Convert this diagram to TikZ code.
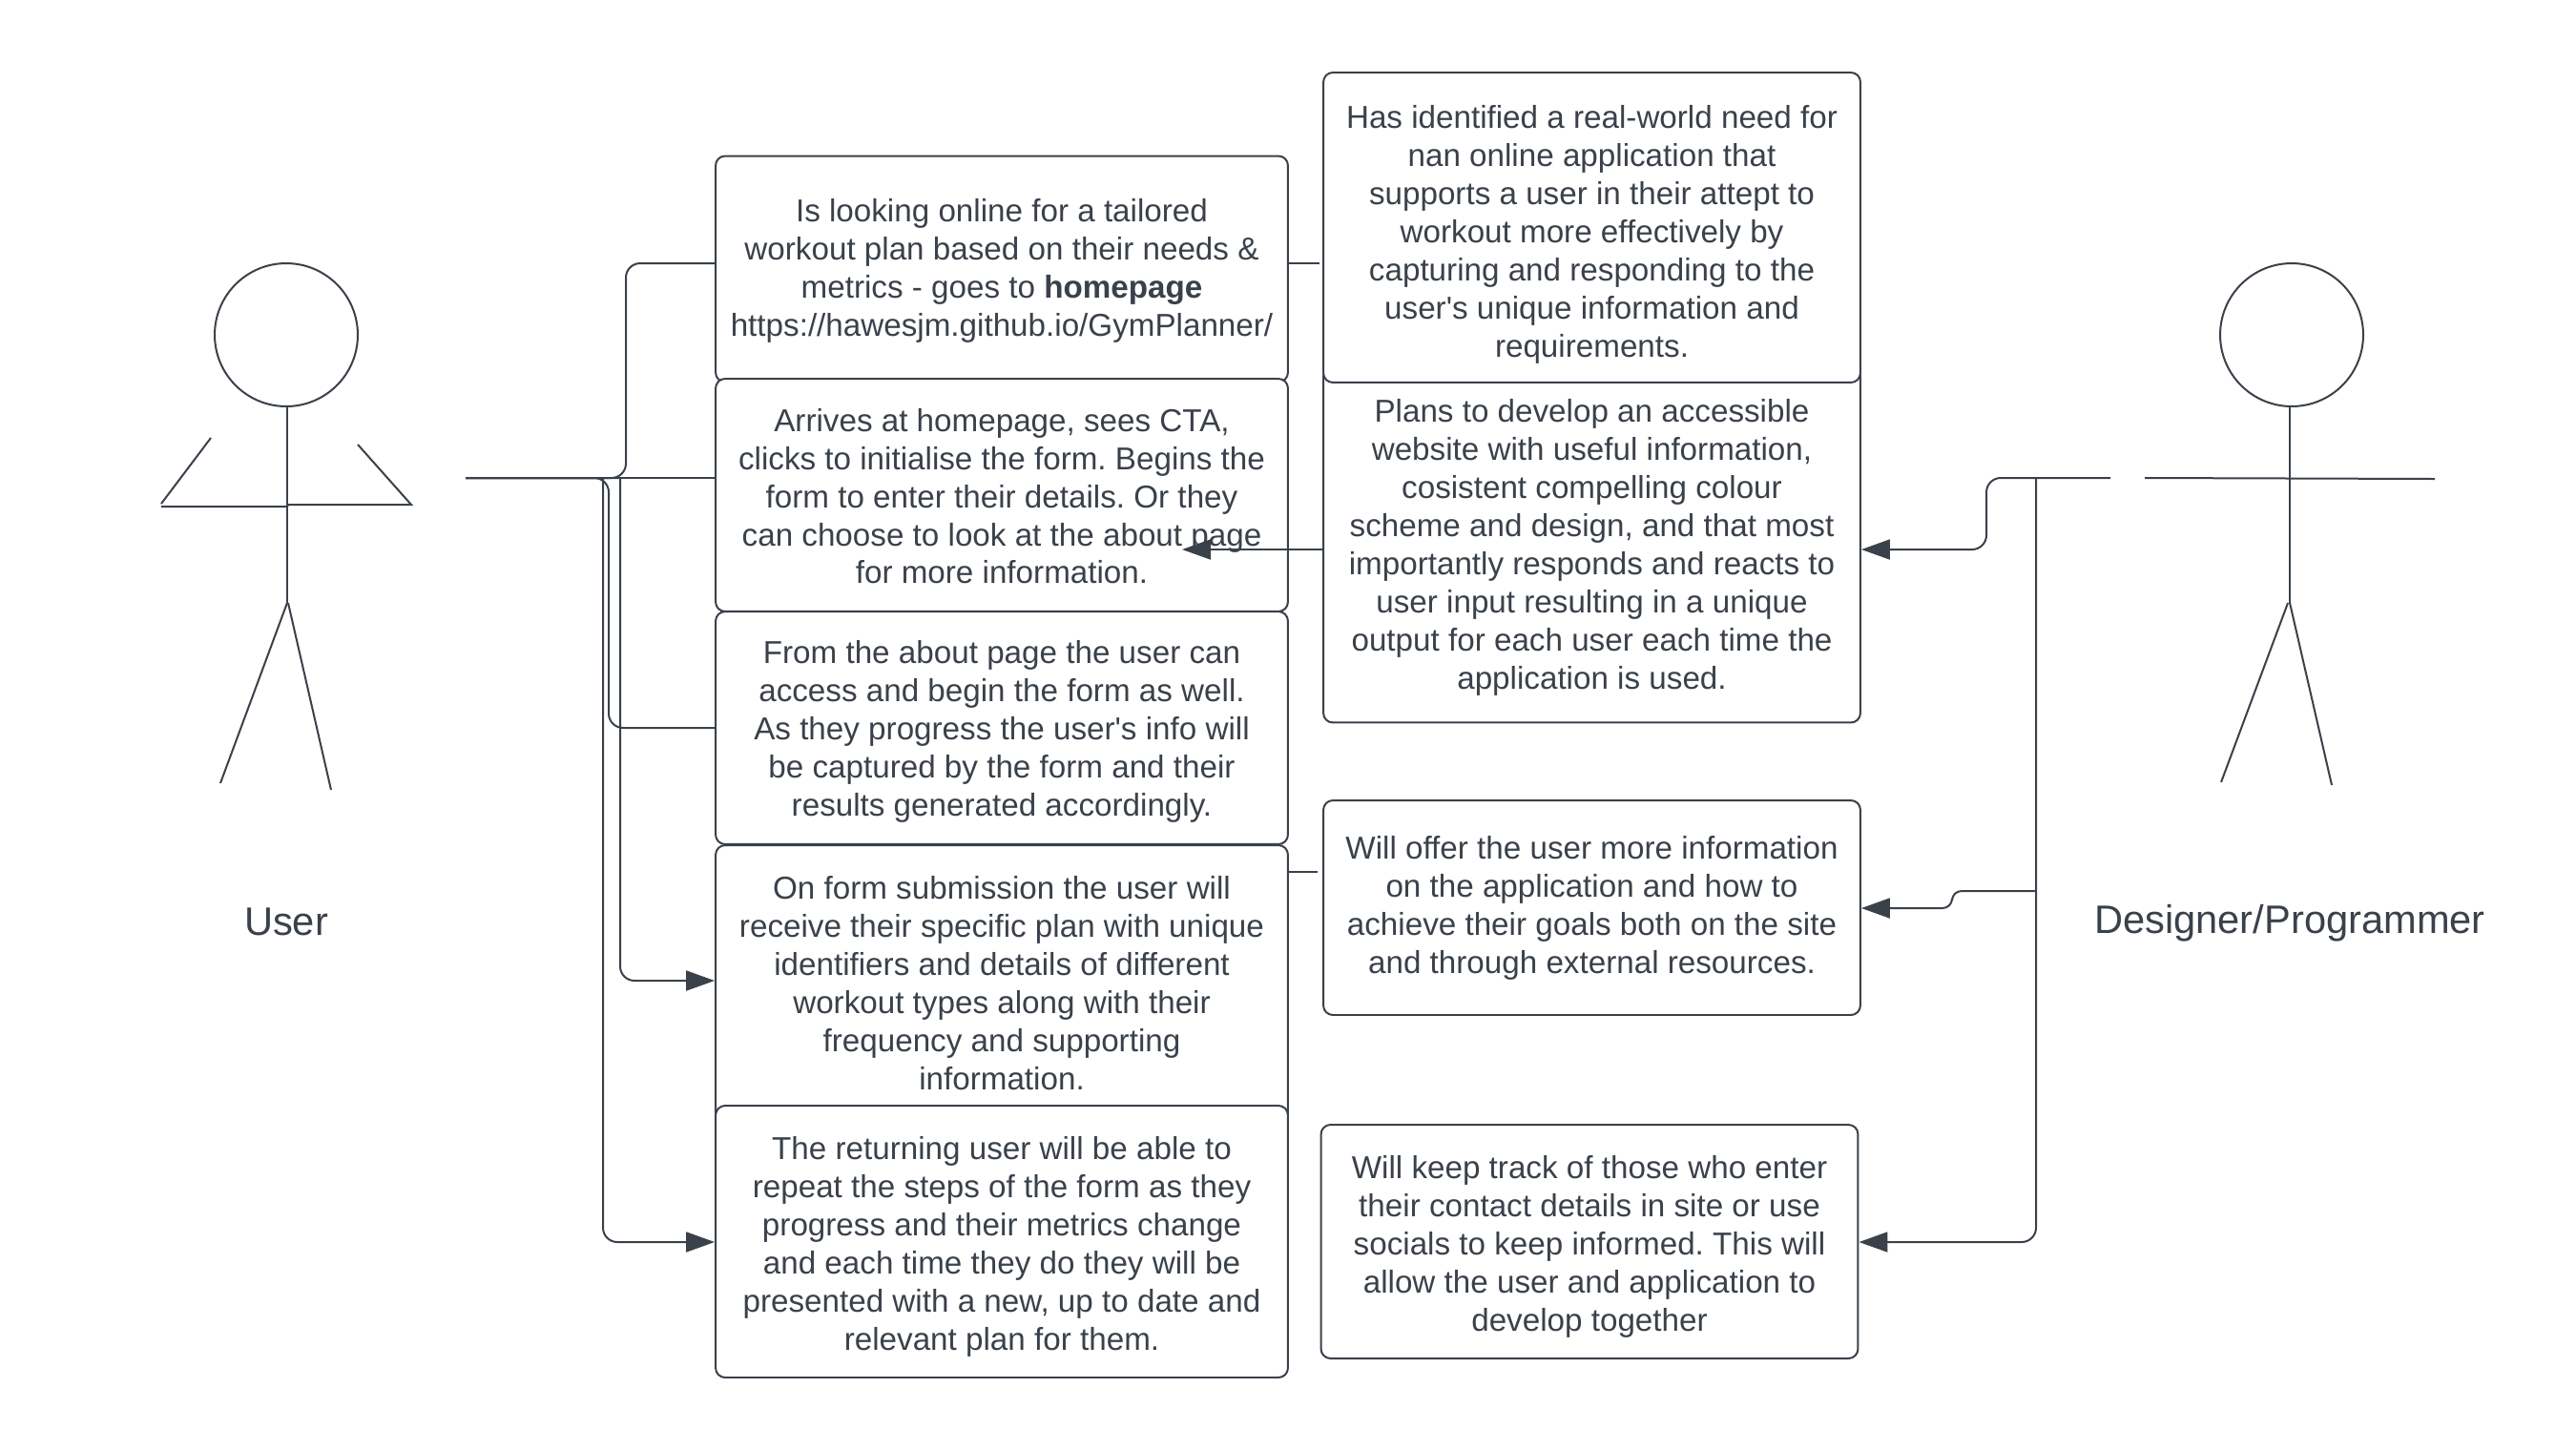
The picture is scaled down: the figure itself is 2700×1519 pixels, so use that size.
\documentclass[tikz,border=0pt]{standalone}
\usepackage{fontspec}
\setmainfont{Liberation Sans}
\usetikzlibrary{arrows.meta}
\definecolor{inkgrey}{HTML}{3A414A}
\newcommand{\dropby}[1]{\rule{0pt}{#1pt}}
\tikzset{
  infobox/.style = {draw=inkgrey, fill=white, line width=0.04cm, rounded corners=0.2cm,
                    inner sep=0pt, align=center, text=inkgrey,
                    font=\fontsize{18.9}{22.75}\selectfont\frenchspacing},
  leftbox/.style = {infobox, minimum width=12cm},
  rightbox/.style = {infobox, minimum width=11.26cm},
  figlabel/.style = {text=inkgrey, inner sep=0pt, font=\fontsize{23.7}{28}\selectfont},
  stick/.style = {draw=inkgrey, line width=0.04cm},
  link/.style = {draw=inkgrey, line width=0.04cm, rounded corners=0.3cm},
  arrowlink/.style = {link, -{Triangle[length=0.6cm, width=0.42cm]}}
}
\begin{document}
\begin{tikzpicture}[x=0.02cm, y=-0.02cm]
  \useasboundingbox (0,0) rectangle (2700,1519);

  % user figure
  \draw[stick] (300,351) circle (1.5cm);
  \draw[stick] (301,426) -- (301,632);
  \draw[stick] (221,459) -- (169,528);
  \draw[stick] (169,531) -- (301,531) -- (302,529) -- (431,529) -- (375,466);
  \draw[stick] (301,632) -- (231,821);
  \draw[stick] (302,632) -- (347,828);
  \node[figlabel] (userlabel) at (300,966) {User};

  % designer figure
  \draw[stick] (2402,351) circle (1.5cm);
  \draw[stick] (2400,426) -- (2400,632);
  \draw[stick] (2248,501) -- (2552,502);
  \draw[stick] (2398,632) -- (2328,820);
  \draw[stick] (2400,632) -- (2444,823);
  \node[figlabel] (designerlabel) at (2400,968) {Designer/Programmer};

  % user steps
  \node[leftbox, minimum height=4.74cm] (stepa) at (1050,282) {\dropby{16}Is looking online for a tailored\\workout plan based on their needs \&\\metrics - goes to \textbf{homepage}\\https://hawesjm.github.io/GymPlanner/};
  \node[leftbox, minimum height=4.88cm] (stepb) at (1050,519) {\dropby{15}Arrives at homepage, sees CTA,\\clicks to initialise the form. Begins the\\form to enter their details. Or they\\can choose to look at the about page\\for more information.};
  \node[leftbox, minimum height=4.88cm] (stepc) at (1050,763) {\dropby{18}From the about page the user can\\access and begin the form as well.\\As they progress the user\textquotesingle s info will\\be captured by the form and their\\results generated accordingly.};
  \node[leftbox, minimum height=5.8cm] (stepd) at (1050,1031) {On form submission the user will\\receive their specific plan with unique\\identifiers and details of different\\workout types along with their\\frequency and supporting\\information.};
  \node[leftbox, minimum height=5.7cm] (stepe) at (1050,1301.5) {\dropby{20}The returning user will be able to\\repeat the steps of the form as they\\progress and their metrics change\\and each time they do they will be\\presented with a new, up to date and\\relevant plan for them.};

  % designer aims
  \node[rightbox, minimum height=7.46cm] (aimb) at (1668.5,571) {\dropby{17}Plans to develop an accessible\\website with useful information,\\cosistent compelling colour\\scheme and design, and that most\\importantly responds and reacts to\\user input resulting in a unique\\output for each user each time the\\application is used.};
  \node[rightbox, minimum height=6.5cm] (aima) at (1668.5,238.5) {\dropby{22}Has identified a real-world need for\\nan online application that\\supports a user in their attept to\\workout more effectively by\\capturing and responding to the\\user\textquotesingle s unique information and\\requirements.};
  \node[rightbox, minimum height=4.5cm] (aimc) at (1668.5,951.5) {Will offer the user more information\\on the application and how to\\achieve their goals both on the site\\and through external resources.};
  \node[rightbox, minimum height=4.9cm] (aimd) at (1666,1301.5) {\dropby{20}Will keep track of those who enter\\their contact details in site or use\\socials to keep informed. This will\\allow the user and application to\\develop together};

  \coordinate (userhand) at (488,501);
  \coordinate (designerhand) at (2212,501);

  % user links
  \draw[link] (userhand) -- (656,501) -- (656,276) -- (stepa.west |- 0,276);
  \draw[link] (userhand) -- (stepb.west |- 0,501);
  \draw[link] (userhand) -- (638,501) -- (638,763) -- (stepc.west |- 0,763);
  \draw[arrowlink] (userhand) [sharp corners] -- (650,501) [rounded corners=0.3cm] -- (650,1028) -- (stepd.west |- 0,1028);
  \draw[arrowlink] (userhand) [sharp corners] -- (632,501) [rounded corners=0.3cm] -- (632,1302) -- (stepe.west |- 0,1302);

  % designer links
  \draw[arrowlink] (designerhand) -- (2082,501) -- (2082,576) -- (aimb.east |- 0,576);
  \draw[link, sharp corners] (designerhand) -- (2134,501) -- (2134,934);
  \draw[arrowlink, rounded corners=0.2cm] (2134,934) -- (2046,934) -- (2046,952) -- (aimc.east |- 0,952);
  \draw[arrowlink] (2134,501) -- (2134,1302) -- (aimd.east |- 0,1302);

  % stubs between the two columns
  \draw[link, shorten >=0.06cm] (stepa.east |- 0,276) -- (aima.west |- 0,276);
  \draw[link, shorten >=0.1cm] (stepd.east |- 0,914) -- (aimc.west |- 0,914);
  \draw[arrowlink] (aimb.west |- 0,576) -- (1239,576);
\end{tikzpicture}
\end{document}
